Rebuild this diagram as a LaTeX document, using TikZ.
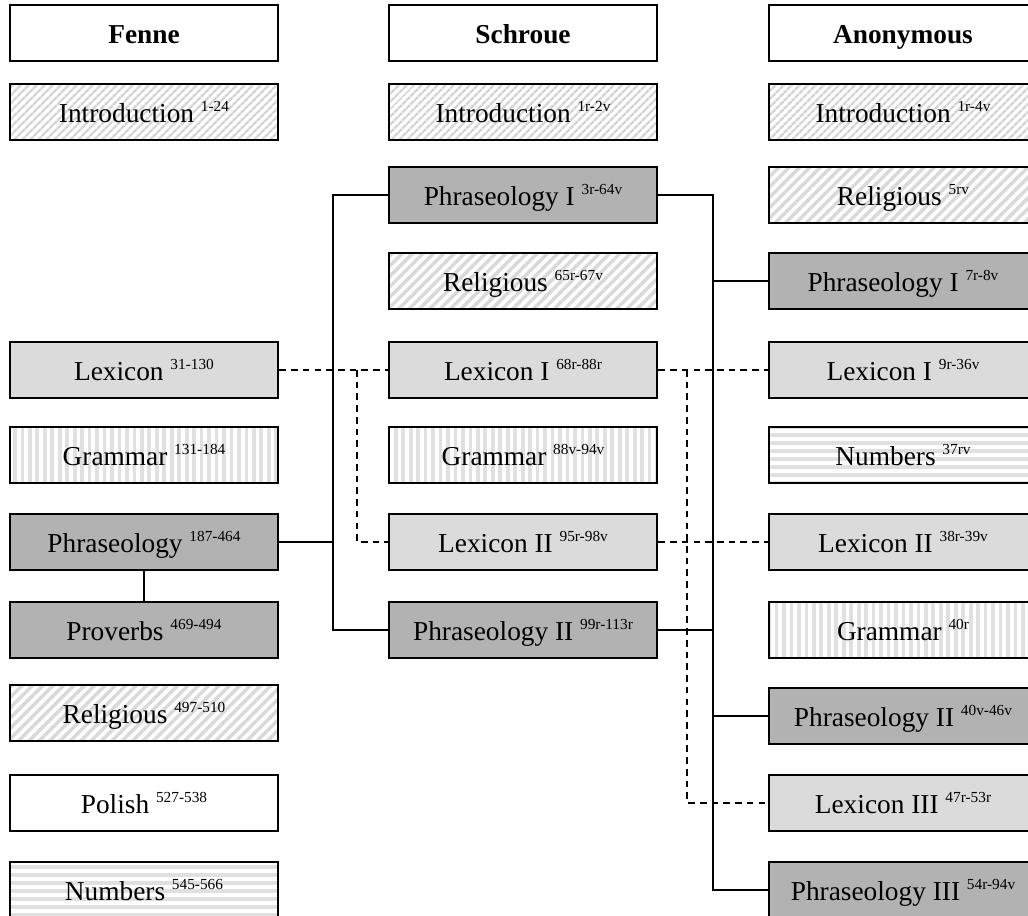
\documentclass[tikz,border=0pt]{standalone}
\usepackage{fontspec}
\setmainfont{Liberation Serif}
\usetikzlibrary{patterns.meta}
\newcommand\pgs[1]{\raisebox{0.40em}{\fontsize{11.5}{12}\selectfont #1}}
\begin{document}
\begin{tikzpicture}[x=0.75pt,y=-0.75pt,
  box/.style={draw,line width=1.5pt,minimum width=201.5pt,minimum height=42pt,inner sep=0pt,text height=16pt,text depth=0pt,font=\fontsize{20.5}{24}\selectfont},
  head/.style={box,fill=white,font=\fontsize{20.5}{24}\selectfont\bfseries},
  plainbox/.style={box,fill=white},
  phr/.style={box,fill=black!30},
  lex/.style={box,fill=black!14},
  intro/.style={box,pattern={Lines[angle=45,distance=4pt,line width=2pt]},pattern color=black!17},
  relig/.style={box,pattern={Lines[angle=45,distance=5.5pt,line width=2.6pt]},pattern color=black!15},
  gram/.style={box,pattern={Lines[angle=90,distance=5.6pt,line width=2.8pt]},pattern color=black!12},
  numb/.style={box,pattern={Lines[angle=0,distance=6pt,line width=3pt]},pattern color=black!12},
  conn/.style={line width=1.2pt},
  thickconn/.style={line width=2.2pt},
  dconn/.style={line width=1.2pt,dash pattern=on 5pt off 3.8pt}]
\fill[white] (0,0) rectangle (1028,915);
\useasboundingbox (0,0) rectangle (1028,915);
\clip (0,0) rectangle (1028,915);
% left column
\node[head]  (F0) at (144,33)  {Fenne};
\node[intro] (F1) at (144,112) {Introduction \pgs{1-24}};
\node[lex]   (F5) at (144,370) {Lexicon \pgs{31-130}};
\node[gram]  (F6) at (144,455) {Grammar \pgs{131-184}};
\node[phr]   (F7) at (144,542) {Phraseology \pgs{187-464}};
\node[phr]   (F8) at (144,630) {Proverbs \pgs{469-494}};
\node[relig] (F9) at (144,713) {Religious \pgs{497-510}};
\node[plainbox] (F10) at (144,803) {Polish \pgs{527-538}};
\node[numb]  (F11) at (144,890) {Numbers \pgs{545-566}};
% middle column
\node[head]  (S0) at (523,33)  {Schroue};
\node[intro] (S1) at (523,112) {Introduction \pgs{1r-2v}};
\node[phr]   (S3) at (523,195) {Phraseology I \pgs{3r-64v}};
\node[relig] (S4) at (523,281) {Religious \pgs{65r-67v}};
\node[lex]   (S5) at (523,370) {Lexicon I \pgs{68r-88r}};
\node[gram]  (S6) at (523,455) {Grammar \pgs{88v-94v}};
\node[lex]   (S7) at (523,542) {Lexicon II \pgs{95r-98v}};
\node[phr]   (S8) at (523,630) {Phraseology II \pgs{99r-113r}};
% right column
\node[head]  (A0) at (903,33)  {Anonymous};
\node[intro] (A1) at (903,112) {Introduction \pgs{1r-4v}};
\node[relig] (A3) at (903,195) {Religious \pgs{5rv}};
\node[phr]   (A4) at (903,281) {Phraseology I \pgs{7r-8v}};
\node[lex]   (A5) at (903,370) {Lexicon I \pgs{9r-36v}};
\node[numb]  (A6) at (903,455) {Numbers \pgs{37rv}};
\node[lex]   (A7) at (903,542) {Lexicon II \pgs{38r-39v}};
\node[gram]  (A8) at (903,630) {Grammar \pgs{40r}};
\node[phr]   (A9) at (903,716) {Phraseology II \pgs{40v-46v}};
\node[lex]   (A10) at (903,803) {Lexicon III \pgs{47r-53r}};
\node[phr]   (A11) at (903,890) {Phraseology III \pgs{54r-94v}};
% junction columns
\coordinate (jL) at (333,0);
\coordinate (dL) at (357,0);
\coordinate (dR) at (687,0);
\coordinate (jR) at (713,0);
% solid trees
\draw[conn] (S3.west) -- (S3.west -| jL) -- (S8.west -| jL) -- (S8.west);
\draw[thickconn] (F7.east) -- (F7.east -| jL);
\draw[conn] (F7.south) -- (F8.north);
\draw[conn] (S3.east) -- (S3.east -| jR) -- (A11.west -| jR) -- (A11.west);
\draw[conn] (A4.west -| jR) -- (A4.west);
\draw[conn] (A9.west -| jR) -- (A9.west);
\draw[conn] (S8.east) -- (S8.east -| jR);
% dashed trees
\draw[dconn] (F5.east) -- (S5.west);
\draw[dconn] (F5.east -| dL) -- (S7.west -| dL) -- (S7.west);
\draw[dconn] (S5.east) -- (A5.west);
\draw[dconn] (S5.east -| dR) -- (A10.west -| dR) -- (A10.west);
\draw[dconn] (S7.east) -- (A7.west);
\end{tikzpicture}
\end{document}
